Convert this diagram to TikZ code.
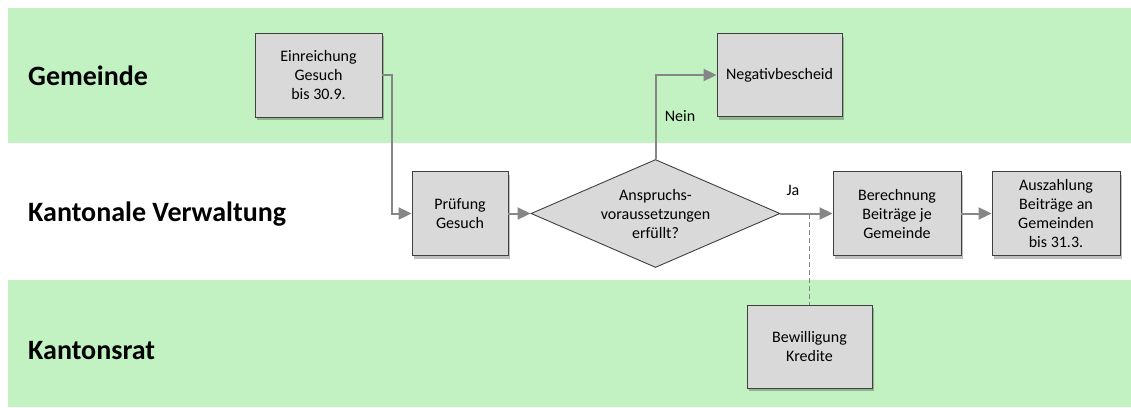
\documentclass[tikz,border=0pt]{standalone}
\usepackage{fontspec}
\setmainfont{Carlito}
\usetikzlibrary{arrows.meta,shapes.geometric,shadows}
\definecolor{lane}{RGB}{194,242,194}
\definecolor{boxfill}{RGB}{217,217,217}
\definecolor{boxline}{RGB}{64,64,64}
\definecolor{flowgray}{RGB}{134,134,134}
\tikzset{
  lanebg/.style={fill=lane, draw=none},
  lanelabel/.style={anchor=west, inner sep=0pt, font=\fontsize{28}{33}\selectfont\bfseries},
  stepbox/.style={rectangle, draw=boxline, line width=0.9pt, fill=boxfill,
    align=center, inner sep=2pt, font=\fontsize{16}{19}\selectfont,
    drop shadow={shadow xshift=2pt, shadow yshift=-3pt, opacity=0.25, fill=black}},
  decision/.style={diamond, draw=boxline, line width=0.9pt, fill=boxfill,
    align=center, inner sep=0pt, aspect=2.3, font=\fontsize{16}{19}\selectfont},
  flow/.style={draw=flowgray, line width=2pt, -{Triangle[length=13pt,width=12pt]}},
  link/.style={draw=flowgray, line width=1.6pt, dash pattern=on 5pt off 3pt},
  edgelabel/.style={inner sep=0pt, font=\fontsize{16}{19}\selectfont}
}
\begin{document}
\begin{tikzpicture}[x=1pt,y=-1pt]
  \useasboundingbox (0,0) rectangle (1131,407);

  % swim lanes
  \path[lanebg] (8,8) rectangle (1131,143);
  \path[lanebg] (8,280) rectangle (1131,407);
  \node[lanelabel] (l1) at (28,76) {Gemeinde};
  \node[lanelabel] (l2) at (28,214) {Kantonale Verwaltung};
  \node[lanelabel] (l3) at (28,351) {Kantonsrat};

  % process steps
  \node[stepbox, minimum width=127pt, minimum height=84pt] (ein) at (318.5,75)
    {Einreichung\\Gesuch\\bis 30.9.};
  \node[stepbox, minimum width=96pt, minimum height=84pt] (pru) at (460,213.5)
    {Prüfung\\Gesuch};
  \node[decision, minimum width=249pt, minimum height=108pt] (dia) at (655.5,213.5)
    {Anspruchs-\\voraussetzungen\\erfüllt?};
  \node[stepbox, minimum width=125pt, minimum height=83pt] (neg) at (779.5,75)
    {Negativbescheid};
  \node[stepbox, minimum width=128pt, minimum height=84pt] (ber) at (897,213.5)
    {Berechnung\\Beiträge je\\Gemeinde};
  \node[stepbox, minimum width=128pt, minimum height=84pt] (aus) at (1056,213.5)
    {Auszahlung\\Beiträge an\\Gemeinden\\bis 31.3.};
  \node[stepbox, minimum width=125pt, minimum height=83pt] (bew) at (809.5,346.5)
    {Bewilligung\\Kredite};

  % connectors
  \draw[flow] (ein.east) -- ++(10,0) |- (pru.west);
  \draw[flow] (pru.east) -- (dia.west);
  \draw[flow] (dia.north) |- (neg.west);
  \draw[flow] (dia.east) -- (ber.west);
  \draw[flow] (ber.east) -- (aus.west);
  \coordinate (tap) at (bew.north |- dia.east);
  \draw[link] (tap) -- (bew.north);

  % branch labels
  \node[edgelabel] (nein) at (680,116) {Nein};
  \node[edgelabel] (ja) at (793,190) {Ja};
\end{tikzpicture}
\end{document}
